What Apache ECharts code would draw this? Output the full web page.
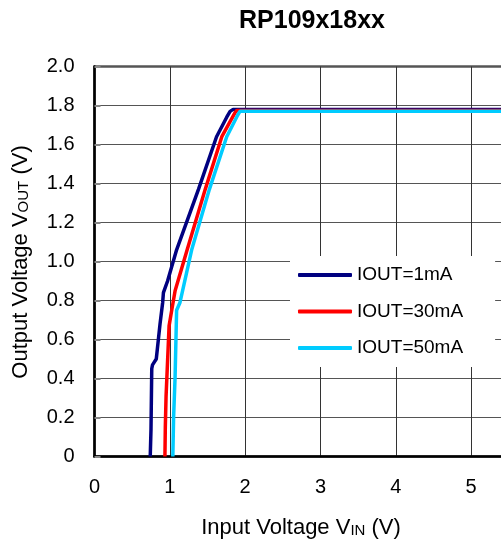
<!DOCTYPE html>
<html lang="en">
<head>
<meta charset="UTF-8">
<title>RP109x18xx</title>
<script src="https://cdn.jsdelivr.net/npm/echarts@6/dist/echarts.min.js"></script>
<style>
  html, body { margin: 0; padding: 0; background: #fff; }
  #chart { width: 501px; height: 542px; }
</style>
</head>
<body>
<div id="chart"></div>
<script>
  // data
  let seriesNames = ['IOUT=1mA', 'IOUT=30mA', 'IOUT=50mA'];
  let colors = ['#000080', '#ff0000', '#00ccff'];

  let vin1 = [0.74, 0.75, 0.76, 0.77, 0.82, 0.87, 0.905, 0.915, 0.97, 1.09, 1.38, 1.62, 1.755, 1.80, 1.84, 6.0];
  let vout1 = [0, 0.14, 0.45, 0.47, 0.50, 0.68, 0.79, 0.84, 0.90, 1.06, 1.37, 1.64, 1.74, 1.77, 1.78, 1.78];

  let vin30 = [0.935, 0.94, 0.95, 0.99, 1.025, 1.07, 1.23, 1.47, 1.69, 1.86, 1.89, 6.0];
  let vout30 = [0, 0.15, 0.31, 0.67, 0.75, 0.85, 1.06, 1.37, 1.64, 1.76, 1.775, 1.775];

  let vin50 = [1.04, 1.05, 1.07, 1.09, 1.135, 1.29, 1.525, 1.755, 1.90, 1.93, 6.0];
  let vout50 = [0, 0.20, 0.41, 0.75, 0.79, 1.06, 1.37, 1.64, 1.75, 1.77, 1.77];

  let font = 'Liberation Sans, Arial, sans-serif';

  function zip(xs, ys) {
    return xs.map((x, i) => [x, ys[i]]);
  }

  let lines = [zip(vin1, vout1), zip(vin30, vout30), zip(vin50, vout50)];

  const chart = echarts.init(document.getElementById('chart'));

  // axis title with a small subscript part
  function axisTitle(main, sub) {
    return '{a|' + main + '}{b|' + sub + '}{a| (V)}';
  }
  let titleRich = {
    a: { fontFamily: font, fontSize: 22, fill: '#000' },
    b: { fontFamily: font, fontSize: 15, fill: '#000', verticalAlign: 'bottom', padding: [0, 0, 1, 0] }
  };

  let option = {
    animation: false,
    title: {
      text: 'RP109x18xx',
      left: 307,
      top: 4,
      textAlign: 'center',
      textStyle: { fontFamily: font, fontWeight: 'bold', fontSize: 25, color: '#000' }
    },
    grid: {
      left: 94.5, top: 66.5, width: 452, height: 390,
      containLabel: false,
      outerBoundsMode: 'none',
      show: true, borderColor: '#000', borderWidth: 2
    },
    legend: {
      orient: 'vertical',
      left: 290, top: 256,
      padding: [9, 32, 9, 8],
      itemGap: 16.5,
      itemWidth: 54, itemHeight: 4,
      icon: 'roundRect',
      backgroundColor: '#fff',
      textStyle: { fontFamily: font, fontSize: 19, color: '#000', lineHeight: 20 },
      data: seriesNames
    },
    xAxis: {
      type: 'value', min: 0, max: 6, interval: 1,
      axisLine: { lineStyle: { color: '#000', width: 2.5 } },
      axisTick: { show: false },
      axisLabel: { margin: 21, fontFamily: font, fontSize: 20, color: '#000' },
      splitLine: { lineStyle: { color: '#333', width: 1 } }
    },
    yAxis: {
      type: 'value', min: 0, max: 2, interval: 0.2,
      axisLine: { show: true, lineStyle: { color: '#000', width: 2.5 } },
      axisTick: { show: true, inside: true, length: 6, lineStyle: { color: '#888', width: 2 } },
      axisLabel: {
        margin: 20, fontFamily: font, fontSize: 20, color: '#000',
        formatter: v => v === 0 ? '0' : v.toFixed(1)
      },
      splitLine: { lineStyle: { color: '#555', width: 1 } }
    },
    graphic: [
      {
        type: 'text', x: 301, y: 528,
        style: {
          text: axisTitle('Input Voltage V', 'IN'),
          align: 'center', verticalAlign: 'middle',
          rich: titleRich
        }
      },
      {
        type: 'text', x: 21, y: 262, rotation: Math.PI / 2,
        style: {
          text: axisTitle('Output Voltage V', 'OUT'),
          align: 'center', verticalAlign: 'middle',
          rich: titleRich
        }
      }
    ],
    series: lines.map((d, i) => ({
      name: seriesNames[i],
      type: 'line',
      data: d,
      showSymbol: false,
      lineStyle: { color: colors[i], width: 3.5 },
      itemStyle: { color: colors[i] },
      z: 2 + i
    }))
  };

  chart.setOption(option);
</script>
</body>
</html>
